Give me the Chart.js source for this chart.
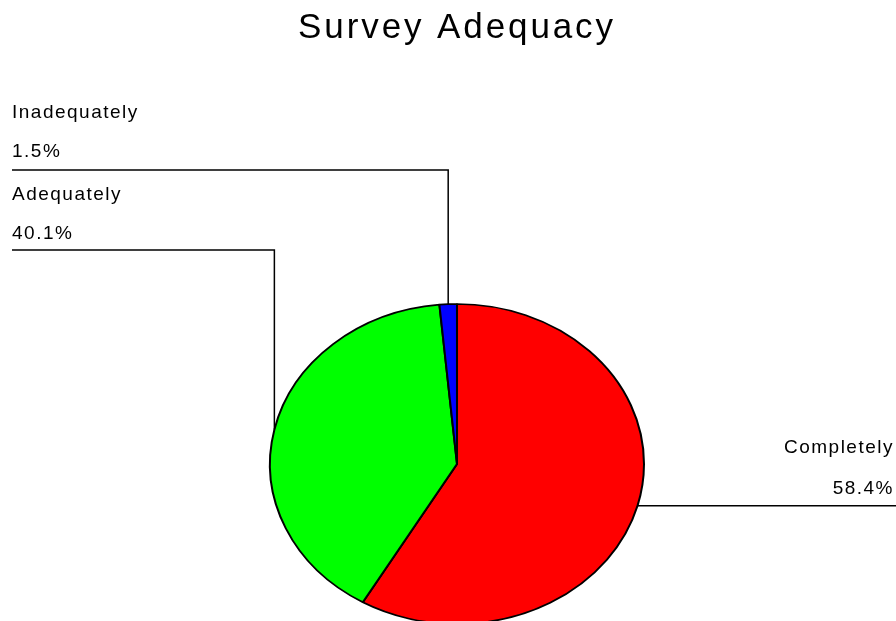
<!DOCTYPE html>
<html>
<head>
<meta charset="utf-8">
<script src="https://cdn.jsdelivr.net/npm/chart.js@4.4.1/dist/chart.umd.min.js"></script>
<style>
html, body { margin: 0; padding: 0; background: #fff; }
#wrap { width: 896px; height: 621px; }
</style>
</head>
<body>
<div id="wrap"><canvas id="pie"></canvas></div>
<script>
const labels = ['Completely', 'Adequately', 'Inadequately'];
const values = [58.4, 40.1, 1.5];
const valueLabels = ['58.4%', '40.1%', '1.5%'];
const colors = ['#ff0000', '#00ff00', '#0000ff'];

const FONT = '"Liberation Sans", Arial, sans-serif';

// the original pie is squashed into an ellipse
const ellipse = { x: 457, y: 464, rx: 187, ry: 160 };

// where each callout goes: side, text x, baselines, elbow y (null = straight out)
const callouts = [
	{ side: 'right', x: 894, nameY: 453, valY: 494, lineY: null },
	{ side: 'left', x: 12, nameY: 200, valY: 239, lineY: 250 },
	{ side: 'left', x: 12, nameY: 118, valY: 157, lineY: 170 }
];

function slicePoint(arc) {
	const mid = (arc.startAngle + arc.endAngle) / 2;
	return {
		x: ellipse.x + ellipse.rx * Math.cos(mid),
		y: ellipse.y + ellipse.ry * Math.sin(mid)
	};
}

const squashPlugin = {
	id: 'squash',
	beforeDraw(chart) {
		chart.ctx.letterSpacing = '2.9px';
	},
	beforeDatasetsDraw(chart) {
		const ctx = chart.ctx;
		const arc = chart.getDatasetMeta(0).data[0];
		const R = arc.outerRadius;
		ctx.save();
		ctx.translate(ellipse.x, ellipse.y);
		ctx.scale(ellipse.rx / R, ellipse.ry / R);
		ctx.translate(-arc.x, -arc.y);
	},
	afterDatasetsDraw(chart) {
		chart.ctx.restore();
	},
	afterDraw(chart) {
		const ctx = chart.ctx;
		const arcs = chart.getDatasetMeta(0).data;
		ctx.save();
		ctx.letterSpacing = '1.5px';
		ctx.font = '19px ' + FONT;
		ctx.fillStyle = '#000';
		ctx.strokeStyle = '#000';
		ctx.lineWidth = 1.5;
		ctx.textBaseline = 'alphabetic';
		arcs.forEach((arc, i) => {
			const c = callouts[i];
			const p = slicePoint(arc);
			ctx.beginPath();
			if (c.side === 'right') {
				ctx.moveTo(p.x, p.y);
				ctx.lineTo(chart.width, p.y);
				ctx.textAlign = 'right';
			} else {
				ctx.moveTo(c.x, c.lineY);
				ctx.lineTo(p.x, c.lineY);
				ctx.lineTo(p.x, p.y);
				ctx.textAlign = 'left';
			}
			ctx.stroke();
			ctx.fillText(labels[i], c.x, c.nameY);
			ctx.fillText(valueLabels[i], c.x, c.valY);
		});
		ctx.restore();
		ctx.letterSpacing = '0px';
	}
};

new Chart(
	document.getElementById('pie'),
	{
		type: 'pie',
		data: {
			labels: labels,
			datasets: [
				{
					data: values,
					backgroundColor: colors,
					borderColor: '#000000',
					borderWidth: 2
				}
			]
		},
		options: {
			responsive: true,
			maintainAspectRatio: false,
			animation: false,
			events: [],
			layout: {
				padding: { left: 270, right: 252, top: 0, bottom: 0 }
			},
			plugins: {
				legend: { display: false },
				tooltip: { enabled: false },
				title: {
					display: true,
					text: 'Survey Adequacy',
					color: '#000',
					font: { family: FONT, size: 35, weight: 'normal' },
					padding: { top: 7, bottom: 10 }
				}
			}
		},
		plugins: [squashPlugin]
	}
);
</script>
</body>
</html>
